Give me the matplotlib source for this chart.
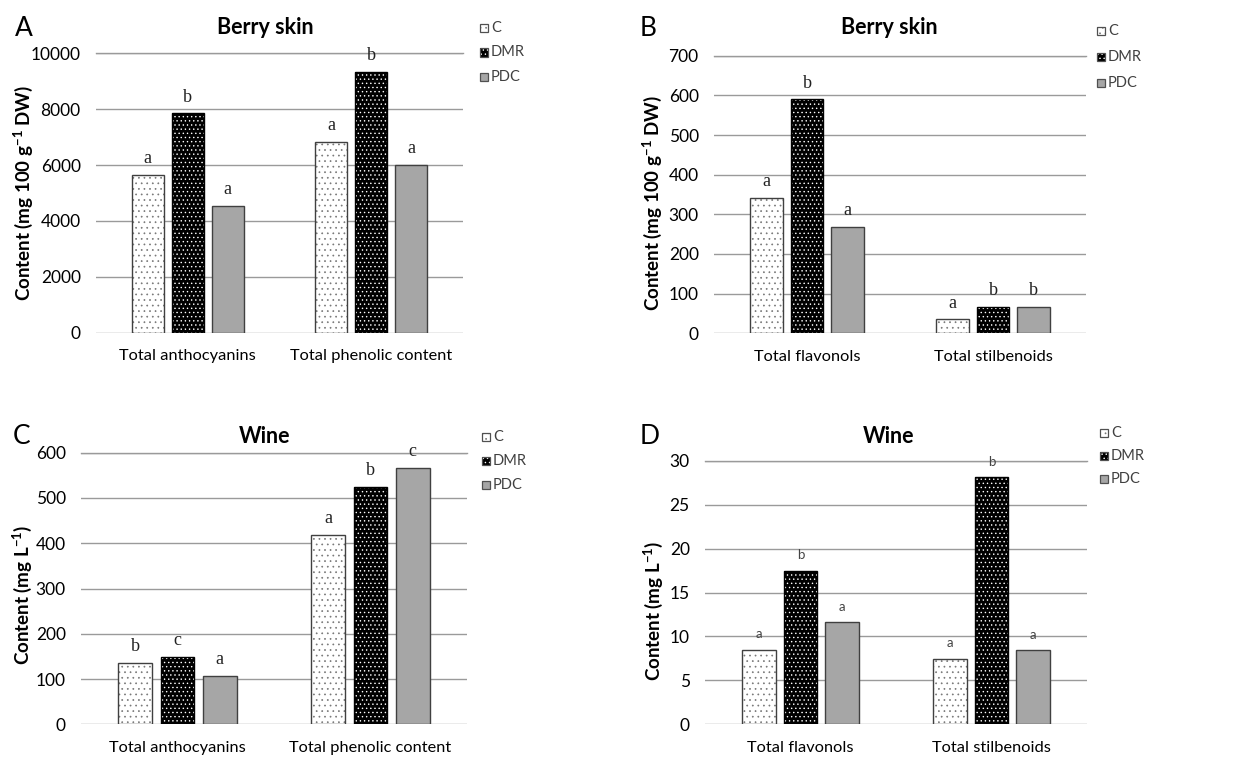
import matplotlib
matplotlib.use("Agg")
import matplotlib.pyplot as plt
import numpy as np

plt.rcParams["font.family"] = ["Lato", "DejaVu Sans"]
plt.rcParams["mathtext.fontset"] = "custom"
plt.rcParams["mathtext.rm"] = "Lato:bold"
plt.rcParams["mathtext.bf"] = "Lato:bold"
plt.rcParams["mathtext.default"] = "bf"
plt.rcParams["hatch.linewidth"] = 0.5

# ---- data ----
series = ["C", "DMR", "PDC"]

cats_skin_1 = ["Total anthocyanins", "Total phenolic content"]
skin_1_C = [5650, 6830]
skin_1_DMR = [7850, 9320]
skin_1_PDC = [4540, 6000]
skin_1_letters = [["a", "a"], ["b", "b"], ["a", "a"]]

cats_skin_2 = ["Total flavonols", "Total stilbenoids"]
skin_2_C = [341, 35]
skin_2_DMR = [590, 66]
skin_2_PDC = [269, 66]
skin_2_letters = [["a", "a"], ["b", "b"], ["a", "b"]]

cats_wine_1 = ["Total anthocyanins", "Total phenolic content"]
wine_1_C = [136, 419]
wine_1_DMR = [149, 524]
wine_1_PDC = [107, 567]
wine_1_letters = [["b", "a"], ["c", "b"], ["a", "c"]]

cats_wine_2 = ["Total flavonols", "Total stilbenoids"]
wine_2_C = [8.5, 7.4]
wine_2_DMR = [17.5, 28.1]
wine_2_PDC = [11.6, 8.4]
wine_2_letters = [["a", "a"], ["b", "b"], ["a", "a"]]

# ---- styles ----
styles = {
    "C": dict(face="white", hatch_col="#777777", hatch="...", edge="#404040"),
    "DMR": dict(face="black", hatch_col="white", hatch="....", edge="black"),
    "PDC": dict(face="#a6a6a6", hatch_col="#a6a6a6", hatch=None, edge="#404040"),
}

fig = plt.figure(figsize=(12.53, 7.6), dpi=100)
W, H = 1253.0, 760.0


def px_axes(l, t, r, b):
    return fig.add_axes([l / W, 1 - b / H, (r - l) / W, (b - t) / H])


def draw_bar_panel(ax, cats, vals, letters, ymax, ystep, letter_style):
    x = np.arange(len(cats))
    width = 0.176
    offs = [-0.218, 0.0, 0.218]
    for i, name in enumerate(series):
        st = styles[name]
        ax.bar(x + offs[i], vals[i], width, color=st["face"],
               edgecolor=st["hatch_col"], linewidth=0, hatch=st["hatch"], zorder=2)
        ax.bar(x + offs[i], vals[i], width, fill=False,
               edgecolor=st["edge"], linewidth=1.0, zorder=3)
        for j, v in enumerate(vals[i]):
            ax.annotate(letters[i][j], (x[j] + offs[i], v), xytext=(0, 8.5),
                        textcoords="offset points", ha="center", va="baseline",
                        **letter_style)
    ax.set_xlim(-0.5, len(cats) - 0.5)
    ax.set_ylim(0, ymax)
    ax.set_yticks(np.arange(0, ymax + ystep / 2, ystep))
    ax.set_xticks(x)
    ax.set_xticklabels(cats, fontsize=11.8)
    ax.yaxis.grid(True, color="#9a9a9a", linewidth=1.0, zorder=0)
    ax.set_axisbelow(True)
    for s in ax.spines.values():
        s.set_visible(False)
    ax.tick_params(axis="both", length=0, labelsize=12.5)
    ax.tick_params(axis="x", labelsize=11.8, pad=12)
    ax.tick_params(axis="y", pad=11)
    ax.axhline(ymax, color="#9a9a9a", linewidth=1.0, zorder=0, clip_on=False)


def legend_manual(x0, y0, dy):
    for k, name in enumerate(series):
        st = styles[name]
        y = y0 + k * dy
        sq = 8.0
        r1 = plt.Rectangle((x0 / W, 1 - (y + sq / 2) / H), sq / W, sq / H,
                           transform=fig.transFigure, facecolor=st["face"],
                           edgecolor=st["hatch_col"], linewidth=0,
                           hatch=st["hatch"])
        r2 = plt.Rectangle((x0 / W, 1 - (y + sq / 2) / H), sq / W, sq / H,
                           transform=fig.transFigure, fill=False,
                           edgecolor="#505050", linewidth=0.9)
        fig.patches.extend([r1, r2])
        fig.text((x0 + sq + 3) / W, 1 - y / H, name, fontsize=10.5,
                 color="#404040", ha="left", va="center")


serif_letter = dict(fontsize=13, family="Liberation Serif", color="#222222")
sans_letter = dict(fontsize=9.5, family="Lato", color="#444444")

skin_label = r"Content (mg 100 g$^{-1}$ DW)"
wine_label = r"Content (mg L$^{-1}$)"
ylab_kw = dict(rotation=90, fontsize=13.5, fontweight="bold", ha="center", va="center")
title_kw = dict(fontsize=15.5, fontweight="bold", ha="center", va="center")
panel_kw = dict(fontsize=19, ha="center", va="center")

# Panel A
axA = px_axes(96, 53.3, 463, 332.7)
draw_bar_panel(axA, cats_skin_1, [skin_1_C, skin_1_DMR, skin_1_PDC],
               skin_1_letters, 10000, 2000, serif_letter)
fig.text(23 / W, 1 - 193 / H, skin_label, **ylab_kw)
fig.text(265 / W, 1 - 28 / H, "Berry skin", **title_kw)
fig.text(24 / W, 1 - 28 / H, "A", **panel_kw)
legend_manual(480, 28, 24.5)

# Panel B
axB = px_axes(714, 55.7, 1086, 333.3)
draw_bar_panel(axB, cats_skin_2, [skin_2_C, skin_2_DMR, skin_2_PDC],
               skin_2_letters, 700, 100, serif_letter)
fig.text(652 / W, 1 - 203 / H, skin_label, **ylab_kw)
fig.text(889 / W, 1 - 28 / H, "Berry skin", **title_kw)
fig.text(648 / W, 1 - 28 / H, "B", **panel_kw)
legend_manual(1097, 31, 26)

# Panel C
axC = px_axes(81, 452.7, 467, 724.3)
draw_bar_panel(axC, cats_wine_1, [wine_1_C, wine_1_DMR, wine_1_PDC],
               wine_1_letters, 600, 100, serif_letter)
fig.text(22 / W, 1 - 595 / H, wine_label, **ylab_kw)
fig.text(265 / W, 1 - 437 / H, "Wine", **title_kw)
fig.text(22 / W, 1 - 436 / H, "C", **panel_kw)
legend_manual(482, 437, 24)

# Panel D
axD = px_axes(705, 460.7, 1087, 724.3)
draw_bar_panel(axD, cats_wine_2, [wine_2_C, wine_2_DMR, wine_2_PDC],
               wine_2_letters, 30, 5, sans_letter)
fig.text(653 / W, 1 - 611 / H, wine_label, **ylab_kw)
fig.text(889 / W, 1 - 437 / H, "Wine", **title_kw)
fig.text(650 / W, 1 - 436 / H, "D", **panel_kw)
legend_manual(1100, 433, 23)

fig.savefig("out.png", dpi=100)
